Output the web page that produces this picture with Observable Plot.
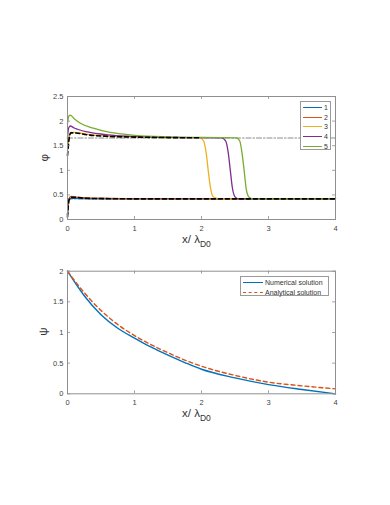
<!DOCTYPE html>
<html>
<head>
<meta charset="utf-8">
<script src="https://cdn.jsdelivr.net/npm/d3@7"></script>
<script src="https://cdn.jsdelivr.net/npm/@observablehq/plot@0.6"></script>
<style>
  html, body { margin: 0; padding: 0; background: #fff; }
  #wrap { position: relative; width: 390px; height: 505px; overflow: hidden; font-family: "Liberation Sans", Arial, sans-serif; }
  #wrap > .plot { position: absolute; left: 0; }
  .lbl { position: absolute; color: #333; font-size: 11.5px; white-space: nowrap; line-height: 1; }
  .lbl sub { font-size: 8.5px; vertical-align: -4px; }
  .ylab { position: absolute; color: #333; font-size: 11.5px; transform: rotate(-90deg); transform-origin: center; line-height: 1; }
  .legend { position: absolute; background: #fff; border: 1px solid #9a9a9a; font-size: 7px; color: #333; box-sizing: border-box; }
  .legend .row { display: flex; align-items: center; height: 9.6px; }
  .legend .sw { display: inline-block; margin-right: 2px; }
</style>
</head>
<body>
<div id="wrap"></div>
<script>
// ---------- data ----------
const colors = ["#0072BD", "#D95319", "#EDB120", "#7E2F8E", "#77AC30"];
const seriesNames = ["1", "2", "3", "4", "5"];
const xTicks = [0, 1, 2, 3, 4];
const topYTicks = [0, 0.5, 1, 1.5, 2, 2.5];
const botYTicks = [0, 0.5, 1, 1.5, 2];

const s1x = [0, 0.02, 0.05, 0.1, 0.5, 1, 2, 3, 4];
const s1y = [0.10, 0.38, 0.43, 0.43, 0.42, 0.42, 0.42, 0.42, 0.42];
const s2x = [0, 0.03, 0.06, 0.1, 0.3, 0.6, 1, 2, 3, 4];
const s2y = [0.10, 0.45, 0.47, 0.46, 0.44, 0.43, 0.42, 0.42, 0.42, 0.42];
const s3x = [0, 0.02, 0.05, 0.1, 0.3, 0.6, 1, 1.5, 1.98, 2.03, 2.07, 2.1, 2.13, 2.16, 2.2, 2.3, 3, 4];
const s3y = [1.40, 1.65, 1.77, 1.77, 1.73, 1.70, 1.68, 1.665, 1.66, 1.60, 1.35, 1.0, 0.68, 0.50, 0.44, 0.42, 0.42, 0.42];
const s4x = [0, 0.015, 0.04, 0.1, 0.3, 0.6, 1, 1.5, 2.3, 2.36, 2.4, 2.43, 2.46, 2.5, 2.55, 3, 4];
const s4y = [1.65, 1.85, 1.90, 1.86, 1.78, 1.72, 1.69, 1.67, 1.66, 1.60, 1.35, 1.0, 0.65, 0.46, 0.42, 0.42, 0.42];
const s5x = [0, 0.02, 0.04, 0.1, 0.2, 0.4, 0.6, 0.8, 1, 1.5, 2.52, 2.57, 2.61, 2.64, 2.67, 2.71, 2.76, 3, 4];
const s5y = [1.95, 2.10, 2.12, 2.05, 1.95, 1.85, 1.78, 1.74, 1.71, 1.68, 1.66, 1.60, 1.30, 0.95, 0.60, 0.45, 0.42, 0.42, 0.42];

const dashUpX = [0, 0.02, 0.05, 0.1, 0.3, 0.6, 1, 1.5, 2.0];
const dashUpY = [1.30, 1.60, 1.76, 1.76, 1.72, 1.69, 1.675, 1.665, 1.66];
const dashLoX = [0, 0.02, 0.05, 0.1, 0.3, 1, 2, 3, 4];
const dashLoY = [0.05, 0.38, 0.45, 0.45, 0.43, 0.42, 0.42, 0.42, 0.42];

const refX = [0, 4];
const refUpY = [1.655, 1.655];
const refLoY = [0.42, 0.42];

const psiX = [0, 0.25, 0.5, 0.75, 1, 1.25, 1.5, 1.75, 2, 2.5, 3, 3.5, 4];
const numY = [2.0, 1.60, 1.29, 1.07, 0.91, 0.76, 0.63, 0.51, 0.40, 0.26, 0.15, 0.07, 0.0];
const anaY = [2.0, 1.65, 1.36, 1.13, 0.95, 0.80, 0.67, 0.55, 0.45, 0.30, 0.19, 0.13, 0.08];

const legendBottom = ["Numerical solution", "Analytical solution"];

// ---------- helpers ----------
const pts = (xs, ys, name) => xs.map((x, i) => ({x, y: ys[i], name}));
const seriesData = [
  pts(s1x, s1y, "1"), pts(s2x, s2y, "2"), pts(s3x, s3y, "3"), pts(s4x, s4y, "4"), pts(s5x, s5y, "5")
];
const frameColor = "#8f8f8f";
const fontStack = "'Liberation Sans', Arial, sans-serif";
const curve = "monotone-x";

function frameTicks(yTicks, innerW, innerH) {
  const tl = 3;
  return [
    Plot.tickX(xTicks, {x: d => d, insetTop: innerH - tl, stroke: frameColor, strokeWidth: 0.8}),
    Plot.tickX(xTicks, {x: d => d, insetBottom: innerH - tl, stroke: frameColor, strokeWidth: 0.8}),
    Plot.tickY(yTicks, {y: d => d, insetRight: innerW - tl, stroke: frameColor, strokeWidth: 0.8}),
    Plot.tickY(yTicks, {y: d => d, insetLeft: innerW - tl, stroke: frameColor, strokeWidth: 0.8}),
    Plot.frame({stroke: frameColor, strokeWidth: 1}),
    Plot.axisX(xTicks, {anchor: "bottom", tickSize: 0, tickPadding: 6, fontSize: 7.5, label: null, tickFormat: d => String(d)}),
    Plot.axisY(yTicks, {anchor: "left", tickSize: 0, tickPadding: 4, fontSize: 7.5, label: null, tickFormat: d => String(d)})
  ];
}

const W = 390;
const mL = 67, mR = 55;
const innerW = W - mL - mR;

// ---------- top plot ----------
const topH = 260, topMT = 96, topMB = 41;
const topPlot = Plot.plot({
  width: W, height: topH,
  marginLeft: mL, marginRight: mR, marginTop: topMT, marginBottom: topMB,
  x: {domain: [0, 4]},
  y: {domain: [0, 2.5]},
  style: {fontFamily: fontStack, color: "#444", background: "transparent", overflow: "visible"},
  marks: [
    Plot.line(pts(refX, refUpY), {x: "x", y: "y", stroke: "#8c8c8c", strokeWidth: 1.1, strokeDasharray: "5,2,1.5,2"}),
    Plot.line(pts(refX, refLoY), {x: "x", y: "y", stroke: "#8c8c8c", strokeWidth: 1.1, strokeDasharray: "5,2,1.5,2"}),
    ...seriesData.map((s, i) => Plot.line(s, {x: "x", y: "y", stroke: colors[i], strokeWidth: 1.3, curve})),
    Plot.line(pts(dashLoX, dashLoY), {x: "x", y: "y", stroke: "#000", strokeWidth: 1.6, strokeDasharray: "4,3", curve}),
    Plot.line(pts(dashUpX, dashUpY), {x: "x", y: "y", stroke: "#000", strokeWidth: 1.6, strokeDasharray: "4,3", curve}),
    ...frameTicks(topYTicks, innerW, topH - topMT - topMB)
  ]
});
topPlot.style.top = "0px";
topPlot.classList.add("plot");

// ---------- bottom plot ----------
const botTop = 250, botH = 190, botMT = 20.7, botMB = 190 - (393.3 - 250);
const botPlot = Plot.plot({
  width: W, height: botH,
  marginLeft: mL, marginRight: mR, marginTop: botMT, marginBottom: botMB,
  x: {domain: [0, 4]},
  y: {domain: [0, 2]},
  style: {fontFamily: fontStack, color: "#444", background: "transparent", overflow: "visible"},
  marks: [
    Plot.line(pts(psiX, numY), {x: "x", y: "y", stroke: colors[0], strokeWidth: 1.4, curve}),
    Plot.line(pts(psiX, anaY), {x: "x", y: "y", stroke: colors[1], strokeWidth: 1.4, strokeDasharray: "4,3", curve}),
    ...frameTicks(botYTicks, innerW, botH - botMT - botMB)
  ]
});
botPlot.style.top = botTop + "px";
botPlot.classList.add("plot");

const wrap = document.getElementById("wrap");
wrap.appendChild(topPlot);
wrap.appendChild(botPlot);

// ---------- labels ----------
function addXLabel(topPx) {
  const d = document.createElement("div");
  d.className = "lbl";
  d.style.left = "182px";
  d.style.top = topPx + "px";
  d.innerHTML = "x/ λ<sub>D0</sub>";
  wrap.appendChild(d);
}
addXLabel(234);
addXLabel(408);

function addYLabel(text, cx, cy) {
  const d = document.createElement("div");
  d.className = "ylab";
  d.textContent = text;
  wrap.appendChild(d);
  d.style.left = (cx - d.offsetWidth / 2) + "px";
  d.style.top = (cy - d.offsetHeight / 2) + "px";
}
addYLabel("φ", 44, 158);
addYLabel("ψ", 44, 332);

// ---------- legends ----------
function addLegend(items, left, topPx, width, height, swW) {
  const lg = document.createElement("div");
  lg.className = "legend";
  lg.style.left = left + "px";
  lg.style.top = topPx + "px";
  lg.style.width = width + "px";
  lg.style.height = height + "px";
  lg.style.padding = "1px 1px 0 2px";
  items.forEach(it => {
    const row = document.createElement("div");
    row.className = "row";
    const sw = document.createElement("span");
    sw.className = "sw";
    sw.style.width = swW + "px";
    sw.style.borderTop = `1.5px ${it.dash ? "dashed" : "solid"} ${it.color}`;
    row.appendChild(sw);
    const t = document.createElement("span");
    t.textContent = it.label;
    row.appendChild(t);
    lg.appendChild(row);
  });
  wrap.appendChild(lg);
}
addLegend(seriesNames.map((n, i) => ({label: n, color: colors[i]})), 300, 101, 31, 49, 19);
addLegend(legendBottom.map((n, i) => ({label: n, color: colors[i], dash: i === 1})), 240, 276, 89, 20, 20);
</script>
</body>
</html>
